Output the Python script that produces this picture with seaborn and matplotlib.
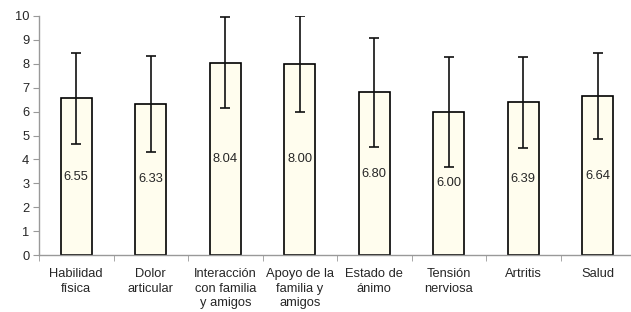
import matplotlib
matplotlib.use("Agg")
import matplotlib.pyplot as plt
import seaborn as sns
import pandas as pd
import numpy as np

categorias = ["Habilidad\nfísica", "Dolor\narticular", "Interacción\ncon familia\ny amigos",
              "Apoyo de la\nfamilia y\namigos", "Estado de\nánimo", "Tensión\nnerviosa",
              "Artritis", "Salud"]
medias = [6.55, 6.33, 8.04, 8.00, 6.80, 6.00, 6.39, 6.64]
desv = [1.90, 2.00, 1.91, 2.00, 2.30, 2.30, 1.90, 1.80]

sns.set_style("white")
plt.rcParams['font.family'] = ['Liberation Sans', 'DejaVu Sans']

df = pd.DataFrame({"categoria": categorias, "media": medias, "sd": desv})

fig = plt.figure(figsize=(6.31, 3.12), dpi=100)
ax = fig.add_axes([39 / 631, 1 - 255 / 312, 596 / 631, 239 / 312])

sns.barplot(data=df, x="categoria", y="media", ax=ax, color="#fffdee",
            edgecolor="black", linewidth=1.2, width=0.41, errorbar=None, saturation=1)
ax.errorbar(np.arange(len(medias)), df["media"], yerr=df["sd"], fmt="none",
            ecolor="#111111", elinewidth=1.2, capsize=3.5, capthick=1.2)

# Valores dentro de las barras
for i, v in enumerate(medias):
    ax.text(i, v / 2, f"{v:.2f}", ha="center", va="center", fontsize=9.3)

ax.set_ylim(0, 10)
ax.set_xlim(-0.5, len(medias) - 0.5)
ax.set_yticks(range(0, 11))
ax.set_xlabel("")
ax.set_ylabel("")

for s in ["top", "right"]:
    ax.spines[s].set_visible(False)
for s in ["left", "bottom"]:
    ax.spines[s].set_color("#999999")
    ax.spines[s].set_linewidth(1)

ax.tick_params(axis="y", left=True, length=4, color="#999999", labelsize=9.3, pad=3)
ax.tick_params(axis="x", bottom=False, labelsize=9.3, pad=6)
ax.set_xticks(np.arange(len(medias)))
ax.set_xticklabels(categorias, linespacing=1.28)
ax.set_xticks(np.arange(-0.5, len(medias)), minor=True)
ax.tick_params(axis="x", which="minor", bottom=True, length=4, color="#999999")

fig.savefig("out.png", dpi=100)
